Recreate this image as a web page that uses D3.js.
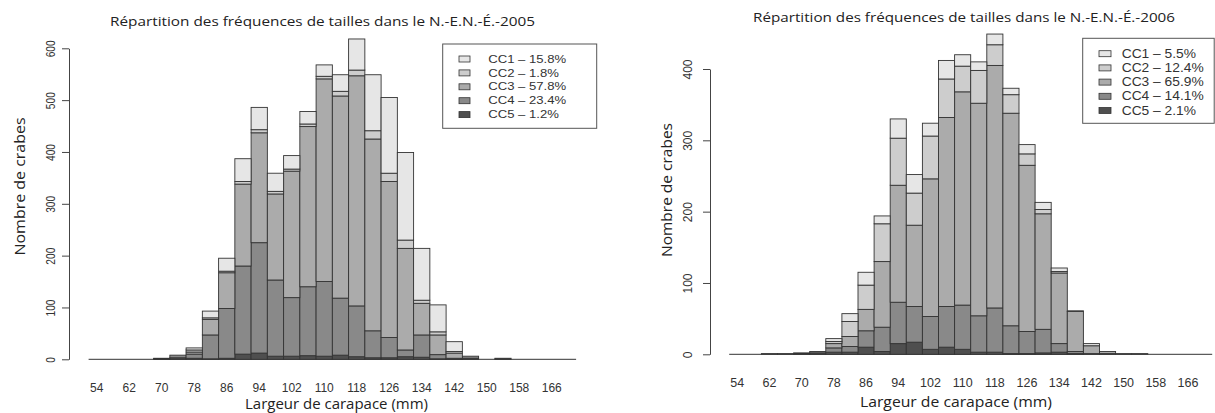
<!DOCTYPE html>
<html><head><meta charset="utf-8">
<script src="https://cdn.jsdelivr.net/npm/d3@7"></script>
<style>body{margin:0;background:#fff} svg{display:block}</style>
</head><body>
<svg id="chart" width="1215" height="413"></svg>
<script>
// ---------- DATA ----------
const sizeBins = [54,58,62,66,70,74,78,82,86,90,94,98,102,106,110,114,118,122,126,130,134,138,142,146,150,154,158,162,166,170];
const tickLabels = [54,62,70,78,86,94,102,110,118,126,134,142,150,158,166];
const classKeys = ["CC1","CC2","CC3","CC4","CC5"];
const classColors = ["#e6e6e6","#cdcdcd","#ababab","#898989","#4f4f4f"];

// 2005
const cc1_2005 = [0,0,0,0,0,0,4,13,25,44,43,35,26,24,22,32,60,108,146,169,100,52,19,0,0,0,0,0,0,0];
const cc2_2005 = [0,0,0,0,0,0,4,3,3,5,6,5,4,5,5,9,11,16,16,16,6,6,3,0,0,0,0,0,0,0];
const cc3_2005 = [0,0,0,0,0,0,4,30,69,158,212,166,244,309,391,390,444,370,301,196,61,38,10,0,0,0,0,0,0,0];
const cc4_2005 = [0,0,0,0,1,5,8,46,96,170,213,147,113,133,144,110,98,52,39,13,43,8,1,4,0,0,0,0,0,0];
const cc5_2005 = [0,0,0,0,1,3,2,1,2,10,12,6,6,7,6,8,5,3,3,5,4,1,1,2,0,2,0,0,0,0];
// 2006
const cc1_2006 = [0,0,0,0,0,0,4,11,18,11,27,26,18,26,16,12,15,9,13,10,5,1,3,0,0,0,0,0,0,0];
const cc2_2006 = [0,0,0,0,0,0,3,21,34,53,66,45,60,54,36,46,29,26,16,6,2,0,0,0,0,0,0,0,0,0];
const cc3_2006 = [0,0,0,0,0,0,6,14,30,92,164,114,193,265,299,298,340,298,233,162,99,56,11,3,1,1,0,0,0,0];
const cc4_2006 = [0,0,1,1,1,2,6,8,23,34,58,50,46,57,62,51,62,39,31,33,12,3,1,1,0,0,0,0,0,0];
const cc5_2006 = [0,0,0,0,1,2,3,3,10,4,15,17,7,10,7,3,3,1,1,2,3,1,0,0,0,0,0,0,0,0];

const legend2005 = ["CC1 – 15.8%","CC2 – 1.8%","CC3 – 57.8%","CC4 – 23.4%","CC5 – 1.2%"];
const legend2006 = ["CC1 – 5.5%","CC2 – 12.4%","CC3 – 65.9%","CC4 – 14.1%","CC5 – 2.1%"];
const yTicks2005 = [0,100,200,300,400,500,600];
const yTicks2006 = [0,100,200,300,400];
const title2005 = "Répartition des fréquences de tailles dans le N.-E.N.-É.-2005";
const title2006 = "Répartition des fréquences de tailles dans le N.-E.N.-É.-2006";
const xTitle = "Largeur de carapace (mm)";
const yTitle = "Nombre de crabes";

// ---------- DRAW ----------
const svg = d3.select("#chart");
const color = d3.scaleOrdinal().domain(classKeys).range(classColors);
const numFont = "'Liberation Sans', Arial, sans-serif";
const txtFont = "'Open Sans', 'Noto Sans', sans-serif";

function panel(o) {
  const rows = sizeBins.map((b, i) => ({bin: b, CC1: o.series[0][i], CC2: o.series[1][i], CC3: o.series[2][i], CC4: o.series[3][i], CC5: o.series[4][i]}));
  const layers = d3.stack().keys(["CC5","CC4","CC3","CC2","CC1"])(rows);
  const x = d3.scaleBand().domain(sizeBins).range(o.xRange).padding(0);
  const y = d3.scaleLinear().domain([0, o.yMax]).range(o.yRange);
  const g = svg.append("g");

  // baseline (zero-height bars drawn as lines, R style)
  g.append("line").attr("x1", o.xRange[0]).attr("x2", o.xRange[1])
    .attr("y1", y(0)).attr("y2", y(0)).attr("stroke", "#333").attr("stroke-width", 1);

  g.selectAll("g.layer").data(layers).join("g").attr("class", "layer")
    .attr("fill", d => color(d.key))
    .selectAll("rect").data(d => d.filter(s => s[1] - s[0] > 0)).join("rect")
    .attr("x", s => x(s.data.bin)).attr("width", x.bandwidth())
    .attr("y", s => y(s[1])).attr("height", s => y(s[0]) - y(s[1]))
    .attr("stroke", "#333").attr("stroke-width", 0.9);

  // y axis
  const ax = g.append("g").attr("transform", `translate(${o.axisX},0)`)
    .call(d3.axisLeft(y).tickValues(o.yTicks).tickSize(7).tickSizeOuter(0));
  ax.select(".domain").attr("stroke", "#444");
  ax.selectAll(".tick line").attr("stroke", "#444");
  ax.selectAll(".tick text")
    .attr("x", 0).attr("y", -o.tickLabelOffset).attr("dy", 0)
    .attr("text-anchor", "middle")
    .attr("transform", `rotate(-90) scale(${o.yTickScale},1)`)
    .attr("font-family", numFont).attr("font-size", o.yTickSize).attr("fill", "#333");

  // x labels
  g.append("g").selectAll("text").data(tickLabels).join("text")
    .attr("x", b => x(b) + x.bandwidth() / 2).attr("y", o.xLabelY)
    .attr("text-anchor", "middle").attr("font-family", numFont)
    .attr("font-size", o.xLabelSize).attr("fill", "#333").text(b => b);

  // titles
  g.append("text").attr("x", o.title.x).attr("y", o.title.y).attr("text-anchor", "middle")
    .attr("font-family", txtFont).attr("font-size", o.title.size).attr("fill", "#222")
    .attr("textLength", o.title.len).attr("lengthAdjust", "spacingAndGlyphs").text(o.title.text);
  g.append("text").attr("x", o.xt.x).attr("y", o.xt.y).attr("text-anchor", "middle")
    .attr("font-family", txtFont).attr("font-size", o.xt.size).attr("fill", "#222")
    .attr("textLength", o.xt.len).attr("lengthAdjust", "spacingAndGlyphs").text(xTitle);
  g.append("text").attr("transform", `translate(${o.yt.x},${o.yt.y}) rotate(-90)`)
    .attr("text-anchor", "middle")
    .attr("font-family", txtFont).attr("font-size", o.yt.size).attr("fill", "#222")
    .attr("textLength", o.yt.len).attr("lengthAdjust", "spacingAndGlyphs").text(yTitle);

  // legend
  const L = o.legend;
  const lg = g.append("g");
  lg.append("rect").attr("x", L.x).attr("y", L.y).attr("width", L.w).attr("height", L.h)
    .attr("fill", "#fff").attr("stroke", "#555").attr("stroke-width", 1);
  const items = lg.selectAll("g.item").data(classKeys).join("g").attr("class", "item");
  items.append("rect").attr("x", L.swX).attr("y", (d, i) => L.row0 + i * L.dy - 3)
    .attr("width", L.swW).attr("height", 6)
    .attr("fill", d => color(d)).attr("stroke", "#333").attr("stroke-width", 0.8);
  items.append("text")
    .attr("transform", (d, i) => `translate(${L.txX},${L.row0 + i * L.dy}) scale(${L.txScale},1)`)
    .attr("dominant-baseline", "central")
    .attr("font-family", numFont).attr("font-size", L.size).attr("fill", "#333")
    .text((d, i) => o.legendLabels[i]);
}

panel({
  series: [cc1_2005, cc2_2005, cc3_2005, cc4_2005, cc5_2005],
  xRange: [88.6, 576.1], yMax: 600, yRange: [359.3, 48.3], yTicks: yTicks2005,
  axisX: 69, tickLabelOffset: 14, yTickScale: 0.85, yTickSize: 12,
  xLabelY: 391.5, xLabelSize: 12,
  title: {text: title2005, x: 322.5, y: 25.5, size: 13.5, len: 425},
  xt: {x: 336.5, y: 408.5, size: 14, len: 183},
  yt: {x: 25, y: 186.5, size: 15, len: 138},
  legend: {x: 442.7, y: 44, w: 154, h: 84.3, swX: 459, swW: 11, txX: 488.3, row0: 59, dy: 13.9, size: 11, txScale: 1.19},
  legendLabels: legend2005
});

panel({
  series: [cc1_2006, cc2_2006, cc3_2006, cc4_2006, cc5_2006],
  xRange: [729.2, 1212.2], yMax: 400, yRange: [354.3, 69], yTicks: yTicks2006,
  axisX: 710, tickLabelOffset: 18, yTickScale: 1, yTickSize: 12,
  xLabelY: 386.7, xLabelSize: 12.5,
  title: {text: title2006, x: 964, y: 22, size: 13.5, len: 422},
  xt: {x: 956, y: 406.5, size: 14, len: 192},
  yt: {x: 671.5, y: 190, size: 15, len: 134},
  legend: {x: 1082.7, y: 38.3, w: 131.5, h: 85, swX: 1099, swW: 12, txX: 1121.7, row0: 53.7, dy: 14.2, size: 12, txScale: 1.15},
  legendLabels: legend2006
});
</script>
</body></html>
